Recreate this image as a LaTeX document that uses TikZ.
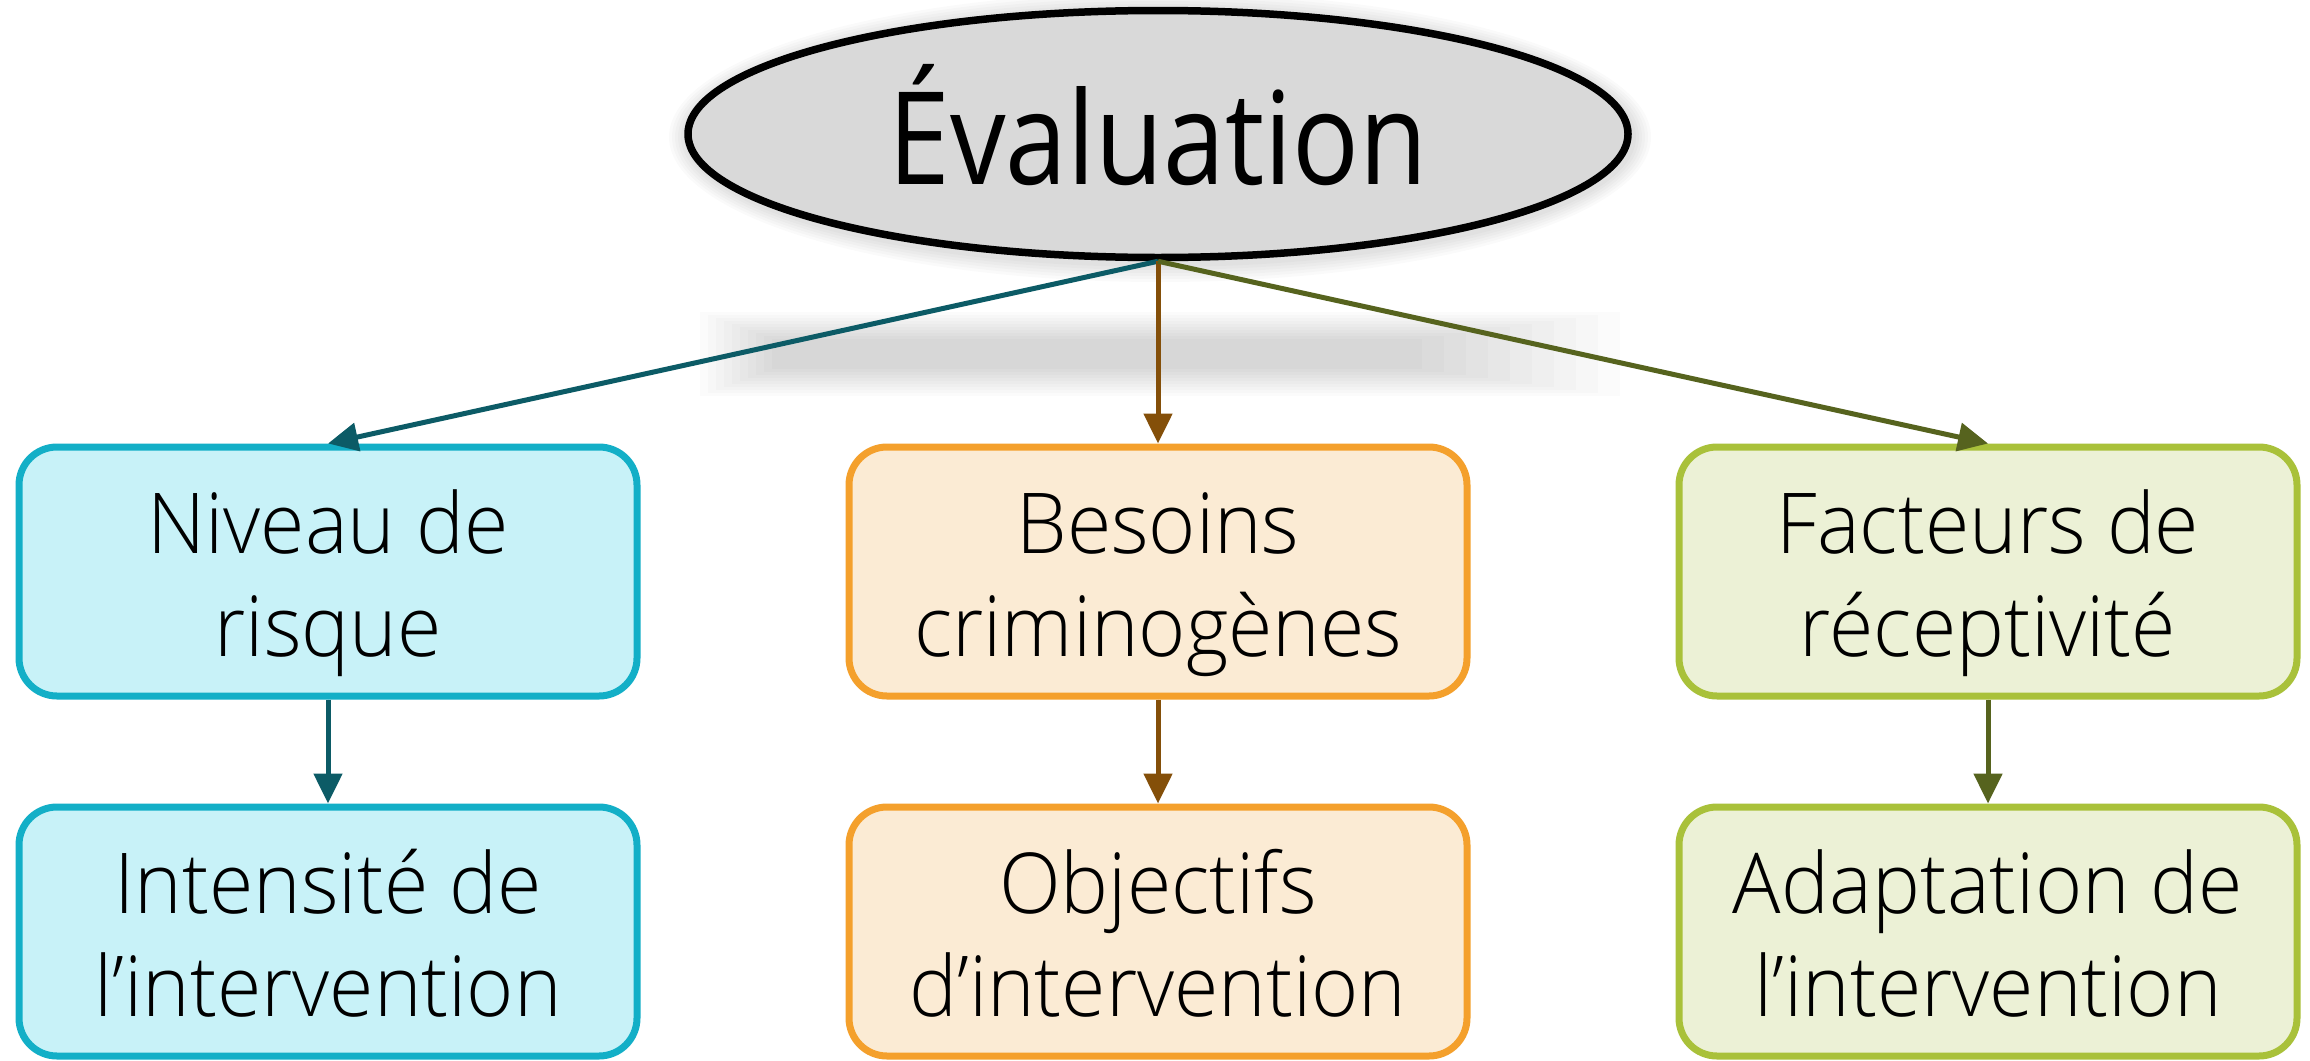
\documentclass[tikz,border=0pt]{standalone}
\usepackage{fontspec}
\setmainfont{Open Sans}
\newfontfamily\titlefont{Open Sans}[FakeStretch=0.86]
\newfontfamily\boxfont{Open Sans Light}[FakeStretch=0.96]
\usetikzlibrary{shapes.geometric,arrows.meta,calc}
\definecolor{cyanbd}{HTML}{13AFC7}
\definecolor{cyanfl}{HTML}{C8F2F8}
\definecolor{orangebd}{HTML}{F4A02C}
\definecolor{orangefl}{HTML}{FBEBD4}
\definecolor{greenbd}{HTML}{A9C13A}
\definecolor{greenfl}{HTML}{ECF1D6}
\definecolor{tealarr}{HTML}{0C5B66}
\definecolor{brownarr}{HTML}{844F09}
\definecolor{olivearr}{HTML}{56631E}
\definecolor{ellfill}{HTML}{D9D9D9}
\newcommand\hiA{\rule{0pt}{90pt}}
\newcommand\loA{\rule[-24pt]{0pt}{24pt}}
\begin{document}
\begin{tikzpicture}[x=1pt,y=-1pt,
  box/.style={draw, rounded corners=38pt, line width=7pt, minimum width=618pt,
    minimum height=249pt, inner sep=0pt, align=center,
    font=\boxfont\fontsize{84}{103}\selectfont},
  bluebox/.style={box, draw=cyanbd, fill=cyanfl},
  orangebox/.style={box, draw=orangebd, fill=orangefl},
  greenbox/.style={box, draw=greenbd, fill=greenfl},
  conn/.style={line width=5pt, -{Triangle[length=30pt,width=28pt]}},
  titlenode/.style={ellipse, draw=black, line width=7.5pt, fill=ellfill,
    minimum width=940pt, minimum height=247pt, inner sep=0pt,
    text height=110pt, text depth=10pt,
    font=\titlefont\fontsize{129}{150}\selectfont}
]
\useasboundingbox (0,0) rectangle (2310,1060);
\fill[white] (0,0) rectangle (2310,1060);

% soft shadow band behind the connectors
\foreach \i in {0,...,9}
  \fill[black,opacity=0.017] (700+8*\i, 312+3*\i) rectangle (1620-22*\i, 396-3*\i);

% soft glow around the ellipse
\foreach \k in {1,...,6}{
  \pgfmathsetmacro\rx{473+3*\k}
  \pgfmathsetmacro\ry{127+3*\k}
  \fill[black,opacity=0.02] (1160,137) ellipse [x radius=\rx pt, y radius=\ry pt];
}

\node[titlenode] (ev) at (1158,134) {Évaluation};

\node[bluebox]   (b1) at (328,571.5)  {\hiA Niveau de\\risque\loA};
\node[orangebox] (b2) at (1158,571.5) {\hiA Besoins\\criminogènes\loA};
\node[greenbox]  (b3) at (1988,571.5) {\hiA Facteurs de\\réceptivité\loA};

\node[bluebox]   (c1) at (328,931.5)  {\hiA Intensité de\\l’intervention\loA};
\node[orangebox] (c2) at (1158,931.5) {\hiA Objectifs\\d’intervention\loA};
\node[greenbox]  (c3) at (1988,931.5) {\hiA Adaptation de\\l’intervention\loA};

\draw[conn, draw=tealarr, fill=tealarr]   (ev.south) -- (b1.north);
\draw[conn, draw=brownarr, fill=brownarr] (ev.south) -- (b2.north);
\draw[conn, draw=olivearr, fill=olivearr] (ev.south) -- (b3.north);

\draw[conn, draw=tealarr, fill=tealarr]   (b1.south) -- (c1.north);
\draw[conn, draw=brownarr, fill=brownarr] (b2.south) -- (c2.north);
\draw[conn, draw=olivearr, fill=olivearr] (b3.south) -- (c3.north);
\end{tikzpicture}
\end{document}
